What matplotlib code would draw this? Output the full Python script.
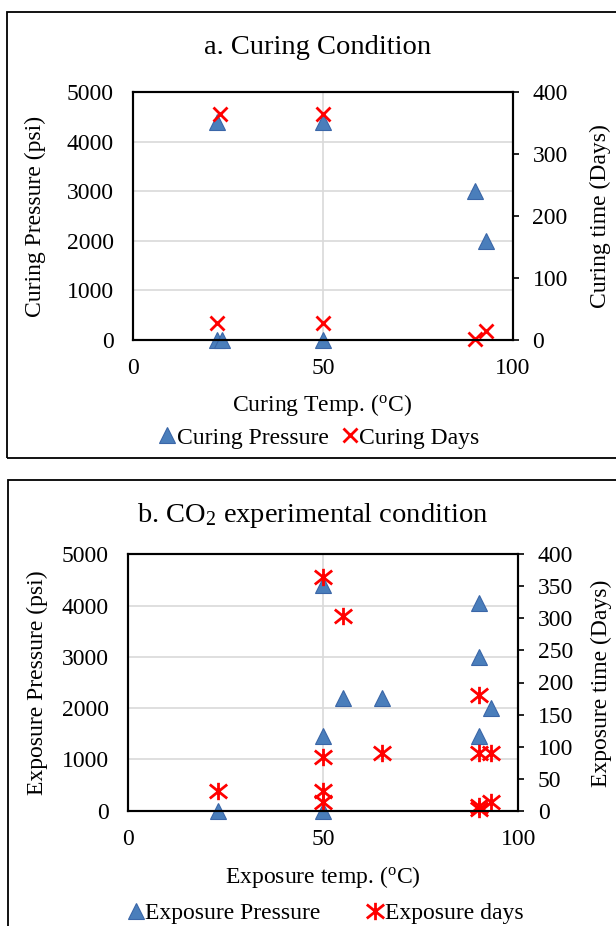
import matplotlib
matplotlib.use("Agg")
import matplotlib.pyplot as plt
from matplotlib.patches import Rectangle
from matplotlib.path import Path

plt.rcParams['font.family'] = ['Liberation Serif', 'DejaVu Serif']
plt.rcParams['mathtext.fontset'] = 'custom'
plt.rcParams['mathtext.rm'] = 'Liberation Serif'
plt.rcParams['mathtext.it'] = 'Liberation Serif:italic'

# a. curing condition
cur_p_temp = [22, 22, 23.5, 50, 50, 90, 93]
cur_pressure = [4400, 0, 0, 4400, 0, 3000, 2000]
cur_d_temp = [23, 22, 50, 50, 90, 93]
cur_days = [365, 28, 365, 28, 1, 14]

# b. CO2 exposure condition
exp_p_temp = [23, 50, 50, 50, 55, 65, 90, 90, 90, 93]
exp_pressure = [0, 4400, 1450, 0, 2200, 2200, 4050, 3000, 1450, 2000]
exp_d_temp = [23, 50, 50, 50, 50, 55, 65, 90, 90, 90, 90, 93, 93]
exp_days = [30, 365, 84, 30, 14, 304, 90, 180, 90, 7, 2, 90, 14]

W, H = 616, 926
fig = plt.figure(figsize=(W / 100, H / 100), dpi=100)

def fx(px):
    return px / W

def fy(py):
    return 1 - py / H

# star marker like excel (x + vertical bar)
star = Path([(-1, -0.8), (1, 0.8), (-1, 0.8), (1, -0.8), (0, -1), (0, 1)],
            [Path.MOVETO, Path.LINETO, Path.MOVETO, Path.LINETO, Path.MOVETO, Path.LINETO])

blue = '#4a7ebb'
blue_edge = '#3a66a8'
red = '#ff0000'
grid_c = '#d9d9d9'
fs = 17

def setup(ax, ax2, ytop2, ystep2):
    ax.set_xlim(0, 100)
    ax.set_ylim(0, 5000)
    ax.set_xticks([0, 50, 100])
    ax.set_yticks(range(0, 5001, 1000))
    ax2.set_ylim(0, ytop2)
    ax2.set_yticks(range(0, ytop2 + 1, ystep2))
    ax.grid(True, color=grid_c, lw=1.2)
    ax.set_axisbelow(True)
    ax.tick_params(axis='y', length=0, labelsize=fs, pad=14)
    ax.tick_params(axis='x', length=0, labelsize=fs, pad=13)
    ax2.tick_params(axis='y', direction='out', length=4, width=1.2, labelsize=fs, pad=10)
    for a in (ax, ax2):
        for s in a.spines.values():
            s.set_linewidth(1.5)
            s.set_color('black')

# panel borders
fig.add_artist(Rectangle((fx(7), fy(458)), fx(700), 446 / H, transform=fig.transFigure,
                         fill=False, lw=1.3, ec='black'))
fig.add_artist(Rectangle((fx(8), fy(1000)), fx(700), 520 / H, transform=fig.transFigure,
                         fill=False, lw=1.3, ec='black'))

# ---- top chart
ax = fig.add_axes([fx(133), fy(340), 380 / W, 248 / H])
ax2 = ax.twinx()
setup(ax, ax2, 400, 100)
h1, = ax.plot(cur_p_temp, cur_pressure, ls='none', marker='^', ms=11,
              mfc=blue, mec=blue_edge, mew=0.8, label='Curing Pressure', clip_on=False)
h2, = ax2.plot(cur_d_temp, cur_days, ls='none', marker='x', ms=10.5,
               mec=red, mew=2, label='Curing Days', clip_on=False)
fig.text(fx(318), fy(48), 'a. Curing Condition', ha='center', va='center', fontsize=20.5)
fig.text(fx(322), fy(405), r'Curing Temp. ($^{\mathrm{o}}$C)', ha='center', va='center', fontsize=fs)
fig.text(fx(35), fy(216), 'Curing Pressure (psi)', rotation=90, ha='center', va='center', fontsize=fs)
fig.text(fx(600), fy(216), 'Curing time (Days)', rotation=90, ha='center', va='center', fontsize=fs)
fig.legend(handles=[h1, h2], loc='center', bbox_to_anchor=(fx(320), fy(438)), ncol=2,
           frameon=False, fontsize=fs, handlelength=0.6, handletextpad=0.1,
           columnspacing=0.6, borderaxespad=0)

# ---- bottom chart
bx = fig.add_axes([fx(128.3), fy(810.7), 390 / W, 256.4 / H])
bx2 = bx.twinx()
setup(bx, bx2, 400, 50)
g1, = bx.plot(exp_p_temp, exp_pressure, ls='none', marker='^', ms=11,
              mfc=blue, mec=blue_edge, mew=0.8, label='Exposure Pressure', clip_on=False)
g2, = bx2.plot(exp_d_temp, exp_days, ls='none', marker=star, ms=12.5,
               mec=red, mfc='none', mew=2, label='Exposure days', clip_on=False)
fig.text(fx(313), fy(515), r'b. CO$_2$ experimental condition', ha='center', va='center', fontsize=20.5)
fig.text(fx(323), fy(877), r'Exposure temp. ($^{\mathrm{o}}$C)', ha='center', va='center', fontsize=fs)
fig.text(fx(37), fy(683), 'Exposure Pressure (psi)', rotation=90, ha='center', va='center', fontsize=fs)
fig.text(fx(601), fy(683), 'Exposure time (Days)', rotation=90, ha='center', va='center', fontsize=fs)
fig.legend(handles=[g1, g2], loc='center', bbox_to_anchor=(fx(326), fy(913)), ncol=2,
           frameon=False, fontsize=fs, handlelength=0.6, handletextpad=0.1,
           columnspacing=2.0, borderaxespad=0)

fig.savefig('out.png', dpi=100)
